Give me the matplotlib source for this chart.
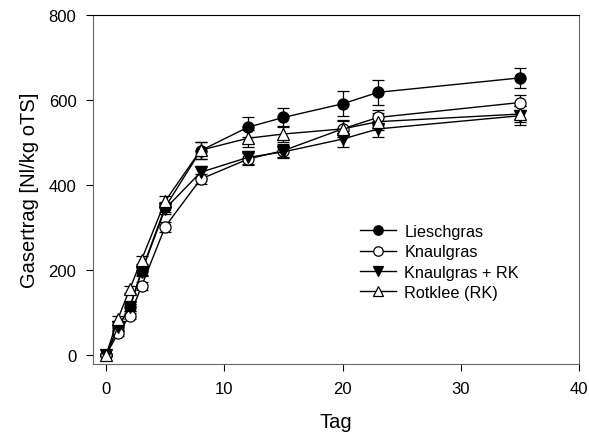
import matplotlib.pyplot as plt

plt.rcParams['font.family'] = ['Liberation Sans', 'DejaVu Sans']

# ------------------------------------------------------------
# Data
# ------------------------------------------------------------

days = [0, 1, 2, 3, 5, 8, 12, 15, 20, 23, 35]

lieschgras = [0, 65, 112, 198, 348, 481, 536, 559, 591, 618, 652]
lieschgras_err = [3, 6, 8, 10, 12, 20, 23, 23, 29, 29, 23]

knaulgras = [0, 51, 92, 162, 302, 414, 461, 481, 532, 559, 594]
knaulgras_err = [3, 5, 7, 9, 12, 12, 14, 15, 18, 18, 18]

knaulgras_rk = [0, 66, 112, 195, 344, 430, 465, 478, 508, 532, 563]
knaulgras_rk_err = [3, 6, 8, 10, 12, 14, 16, 15, 18, 18, 22]

rotklee = [0, 85, 155, 224, 362, 482, 510, 520, 532, 549, 567]
rotklee_err = [3, 6, 8, 10, 12, 20, 20, 18, 20, 20, 18]

series = [
    ("Lieschgras", lieschgras, lieschgras_err, "o", "black"),
    ("Knaulgras", knaulgras, knaulgras_err, "o", "white"),
    ("Knaulgras + RK", knaulgras_rk, knaulgras_rk_err, "v", "black"),
    ("Rotklee (RK)", rotklee, rotklee_err, "^", "white"),
]


def main():
    fig = plt.figure(figsize=(5.89, 4.39), dpi=100)
    ax = fig.add_axes([0.158, 0.1686, 0.825, 0.795])

    for label, values, errors, marker, face in series:
        ax.errorbar(
            days, values, yerr=errors,
            color="black", linewidth=1.0,
            marker=marker, markersize=8, markerfacecolor=face,
            markeredgecolor="black", markeredgewidth=0.9,
            ecolor="black", elinewidth=0.9, capsize=4, capthick=0.9,
            label=label,
        )

    ax.set_xlim(-1.1, 40)
    ax.set_ylim(-21, 800)
    ax.set_xticks([0, 10, 20, 30, 40])
    ax.set_yticks([0, 200, 400, 600, 800])
    ax.tick_params(direction="out", length=5, width=0.8, labelsize=12, pad=7)

    for side in ["left", "bottom", "right"]:
        ax.spines[side].set_color("#666666")
    ax.spines["top"].set_color("black")

    ax.set_xlabel("Tag", fontsize=14.5, labelpad=12)
    ax.set_ylabel("Gasertrag [Nl/kg oTS]", fontsize=14.5, labelpad=7)

    # Legend handles: lines only, no error bars
    handles, labels = ax.get_legend_handles_labels()
    handles = [h[0] for h in handles]
    ax.legend(
        handles, labels, loc="upper left", bbox_to_anchor=(0.52, 0.443),
        frameon=False, fontsize=11.7, handlelength=2.2, handletextpad=0.5,
        labelspacing=0.33, markerscale=0.85,
    )

    fig.savefig("out.png", dpi=100)


if __name__ == "__main__":
    main()
